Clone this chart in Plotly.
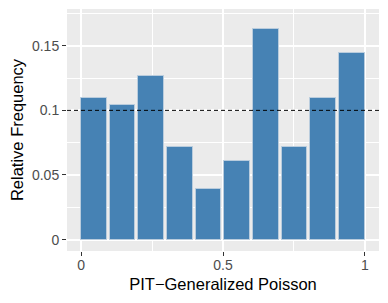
import plotly.graph_objects as go

bin_centers = [0.045, 0.146, 0.247, 0.348, 0.449, 0.550, 0.651, 0.752, 0.853, 0.954]
rel_freq = [0.1094, 0.1038, 0.1262, 0.0713, 0.0392, 0.0607, 0.1629, 0.0715, 0.1097, 0.1441]
bar_width = 0.09
ref_level = 0.1

x_tickvals = [0, 0.5, 1]
x_ticktext = ["0", "0.5", "1"]
y_tickvals = [0, 0.05, 0.1, 0.15]
y_ticktext = ["0", "0.05", "0.1", "0.15"]

FONT = "Liberation Sans, Arial, Helvetica, sans-serif"

fig = go.Figure()
fig.add_trace(go.Bar(
    x=bin_centers, y=rel_freq, width=bar_width,
    marker=dict(color="#4682B4", line=dict(color="#B9CCDD", width=1)),
    showlegend=False,
))
fig.add_shape(type="line", xref="paper", yref="y", x0=0, x1=1, y0=ref_level, y1=ref_level,
              line=dict(color="black", width=1, dash="4px,3px"))

# page body has an 8px default margin, so the figure is sized to fit the window
fig.update_layout(
    width=380, height=295,
    margin=dict(l=59, r=9, t=1, b=52),
    paper_bgcolor="white", plot_bgcolor="#EBEBEB",
    font=dict(family=FONT),
    bargap=0,
)
fig.update_xaxes(
    range=[-0.05, 1.05], tickvals=x_tickvals, ticktext=x_ticktext,
    automargin=False,
    showgrid=True, gridcolor="white", gridwidth=1.5, zeroline=False,
    ticks="outside", ticklen=4, tickcolor="#333333", tickwidth=1,
    tickfont=dict(size=14, color="#4D4D4D"), ticklabelstandoff=-3,
    minor=dict(tick0=0.25, dtick=0.5, showgrid=True, gridcolor="white", gridwidth=0.7, ticks=""),
    title=dict(text="PIT\u2212Generalized Poisson", font=dict(size=16.5, color="black"), standoff=6),
)
fig.update_yaxes(
    range=[-0.0088, 0.1784], tickvals=y_tickvals, ticktext=y_ticktext,
    automargin=False,
    showgrid=True, gridcolor="white", gridwidth=1.5, zeroline=False,
    ticks="outside", ticklen=4, tickcolor="#333333", tickwidth=1,
    tickfont=dict(size=14, color="#4D4D4D"),
    minor=dict(tick0=0.025, dtick=0.05, showgrid=True, gridcolor="white", gridwidth=0.7, ticks=""),
    title=dict(text="Relative Frequency", font=dict(size=16.5, color="black"), standoff=6),
)

fig.write_html("out.html")
